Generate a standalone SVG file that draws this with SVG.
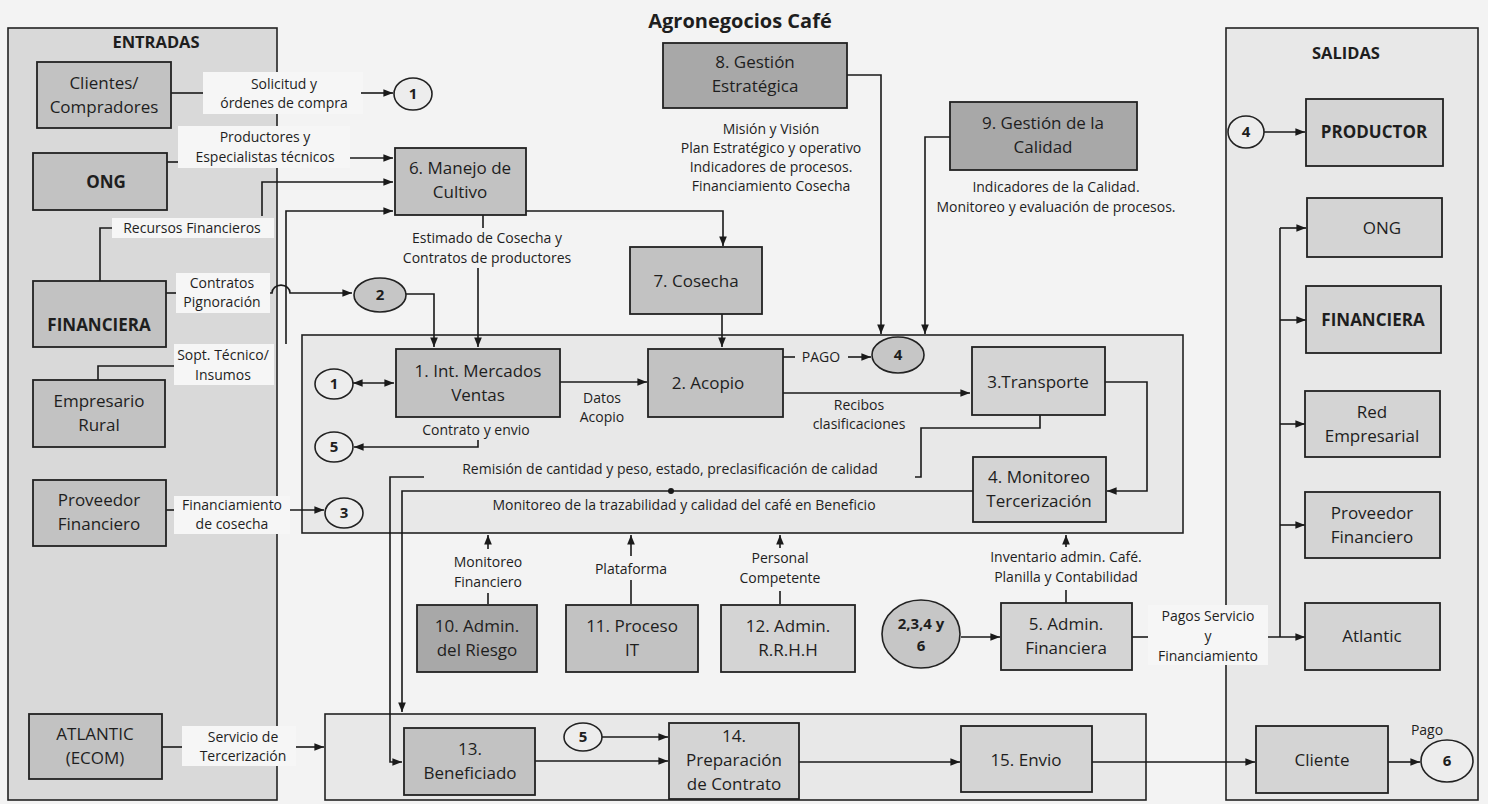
<svg xmlns="http://www.w3.org/2000/svg" width="1488" height="804" viewBox="0 0 1488 804">
<defs>
<marker id="ah" viewBox="0 0 10 10" refX="10" refY="5" markerWidth="6" markerHeight="6" orient="auto-start-reverse" markerUnits="strokeWidth"><path d="M0,1 L10,5 L0,9 z" fill="#1a1a1a"/></marker>
<style>
text{font-family:"Open Sans","Liberation Sans",sans-serif;fill:#1e1e1e;text-anchor:middle}
.n{font-size:17px}
.nb{font-size:17px;font-weight:bold}
.l{font-size:14px}
.h{font-size:16.5px;font-weight:bold}
.t{font-size:20px;font-weight:bold}
.c{font-size:15px;font-weight:bold}
.frame{fill:#d9d9d9;stroke:#222;stroke-width:1.6}
.frame2{fill:#e8e8e8;stroke:#222;stroke-width:1.6}
.box{fill:#c2c2c2;stroke:#222;stroke-width:1.8}
.boxl{fill:#d4d4d4;stroke:#222;stroke-width:1.8}
.boxd{fill:#a8a8a8;stroke:#222;stroke-width:1.8}
.circ{fill:#ededed;stroke:#222;stroke-width:1.6}
.circg{fill:#c6c6c6;stroke:#222;stroke-width:1.6}
.bg{fill:#f6f6f6}
#connectors path{fill:none;stroke:#1a1a1a;stroke-width:1.6}
.ar{marker-end:url(#ah)}
</style>
</defs>
<rect width="1488" height="804" fill="#f3f3f3"/>
<text class="t" x="740" y="28">Agronegocios Café</text>

<g id="entradas">
<rect class="frame" x="8" y="28" width="269" height="772"/>
<text class="h" x="156" y="48">ENTRADAS</text>
</g>
<g id="salidas">
<rect class="frame2" x="1226" y="28" width="252" height="772"/>
<text class="h" x="1346" y="59">SALIDAS</text>
</g>
<g id="proceso-principal">
<rect class="frame2" x="302" y="335" width="881" height="198"/>
</g>
<g id="proceso-beneficio">
<rect class="frame2" x="325" y="714" width="821" height="86"/>
</g>

<g id="label-bg">
<rect class="bg" x="203" y="72" width="160" height="42"/>
<rect class="bg" x="178" y="126" width="172" height="42"/>
<rect class="bg" x="112" y="218" width="162" height="20"/>
<rect class="bg" x="176" y="273" width="94" height="40"/>
<rect class="bg" x="174" y="344" width="100" height="41"/>
<rect class="bg" x="174" y="496" width="116" height="38"/>
<rect class="bg" x="182" y="726" width="114" height="40"/>
<rect class="bg" x="1148" y="605" width="120" height="60"/>
</g>

<g id="connectors">
<path d="M171,93 H203"/>
<path class="ar" d="M361,93 H393"/>
<path class="ar" d="M350,158 H393"/>
<path d="M167,162 H178"/>
<path d="M100,281 V228 H112"/>
<path class="ar" d="M262,216 V182 H393"/>
<path d="M98,380 V366 H174"/>
<path class="ar" d="M286,344 V211 H393"/>
<path d="M166,293 H176"/>
<path class="ar" d="M270,293 H272 A8,7 0 0 1 290,293 H352"/>
<path d="M166,510 H174"/>
<path class="ar" d="M290,510 H324"/>
<path d="M162,747 H182"/>
<path class="ar" d="M296,747 H324"/>
<path class="ar" d="M405,294 H434 V347"/>
<path d="M483,215 V228"/>
<path class="ar" d="M478,268 V347"/>
<path class="ar" d="M526,211 H723 V246"/>
<path class="ar" d="M722,314 V347"/>
<path class="ar" d="M847,75 H881 V334"/>
<path class="ar" d="M950,137 H925 V334"/>
<path class="ar" d="M353,383 H394" marker-start="url(#ah)"/>
<path class="ar" d="M478,440 V447 H354"/>
<path class="ar" d="M560,382 H647"/>
<path d="M783,357 H795"/>
<path class="ar" d="M848,357 H871"/>
<path class="ar" d="M783,393 H970"/>
<path class="ar" d="M1105,382 H1147 V491 H1107"/>
<path d="M1040,415 V428 H921 V477 H915"/>
<path class="ar" d="M424,477 H390 V762 H402"/>
<path class="ar" d="M973,491 H402 V712"/>
<path d="M488,604 V593"/>
<path class="ar" d="M488,549 V535"/>
<path d="M631,604 V580"/>
<path class="ar" d="M631,556 V535"/>
<path d="M780,604 V591"/>
<path class="ar" d="M780,548 V535"/>
<path d="M1066,603 V590"/>
<path class="ar" d="M1066,547 V535"/>
<path class="ar" d="M961,637 H1000"/>
<path d="M1132,637 H1148"/>
<path class="ar" d="M1268,637 H1305"/>
<path d="M1280,637 V228"/>
<path class="ar" d="M1280,228 H1306"/>
<path class="ar" d="M1280,320 H1306"/>
<path class="ar" d="M1280,424 H1305"/>
<path class="ar" d="M1280,525 H1305"/>
<path class="ar" d="M1264,132 H1305"/>
<path class="ar" d="M602,737 H668"/>
<path class="ar" d="M535,761 H668"/>
<path class="ar" d="M799,762 H960"/>
<path class="ar" d="M1092,762 H1255"/>
<path class="ar" d="M1388,762 H1420"/>
<circle cx="671" cy="491" r="3" fill="#1a1a1a"/>
</g>

<g id="connector-labels">
<text class="l" x="284" y="89">Solicitud y</text>
<text class="l" x="284" y="108">órdenes de compra</text>
<text class="l" x="265" y="142">Productores y</text>
<text class="l" x="265" y="162">Especialistas técnicos</text>
<text class="l" x="192" y="233">Recursos Financieros</text>
<text class="l" x="222" y="288">Contratos</text>
<text class="l" x="222" y="307">Pignoración</text>
<text class="l" x="223" y="360">Sopt. Técnico/</text>
<text class="l" x="223" y="380">Insumos</text>
<text class="l" x="232" y="510">Financiamiento</text>
<text class="l" x="232" y="529">de cosecha</text>
<text class="l" x="243" y="742">Servicio de</text>
<text class="l" x="243" y="761">Tercerización</text>
<text class="l" x="487" y="243">Estimado de Cosecha y</text>
<text class="l" x="487" y="263">Contratos de productores</text>
<text class="l" x="771" y="134">Misión y Visión</text>
<text class="l" x="771" y="153">Plan Estratégico y operativo</text>
<text class="l" x="771" y="172">Indicadores de procesos.</text>
<text class="l" x="771" y="191">Financiamiento Cosecha</text>
<text class="l" x="1056" y="192">Indicadores de la Calidad.</text>
<text class="l" x="1056" y="212">Monitoreo y evaluación de procesos.</text>
<text class="l" x="602" y="403">Datos</text>
<text class="l" x="602" y="422">Acopio</text>
<text class="l" x="821" y="362">PAGO</text>
<text class="l" x="859" y="410">Recibos</text>
<text class="l" x="859" y="429">clasificaciones</text>
<text class="l" x="476" y="435">Contrato y envio</text>
<text class="l" x="670" y="474">Remisión de cantidad y peso, estado, preclasificación de calidad</text>
<text class="l" x="684" y="510">Monitoreo de la trazabilidad y calidad del café en Beneficio</text>
<text class="l" x="488" y="567">Monitoreo</text>
<text class="l" x="488" y="587">Financiero</text>
<text class="l" x="631" y="574">Plataforma</text>
<text class="l" x="780" y="563">Personal</text>
<text class="l" x="780" y="583">Competente</text>
<text class="l" x="1066" y="562">Inventario admin. Café.</text>
<text class="l" x="1066" y="582">Planilla y Contabilidad</text>
<text class="l" x="1208" y="621">Pagos Servicio</text>
<text class="l" x="1208" y="641">y</text>
<text class="l" x="1208" y="661">Financiamiento</text>
<text class="l" x="1427" y="735" fill="#555">Pago</text>
</g>

<g id="n-clientes"><rect class="box" x="37" y="62" width="134" height="66"/><text class="n" x="104" y="89">Clientes/</text><text class="n" x="104" y="113">Compradores</text></g>
<g id="n-ong"><rect class="box" x="33" y="153" width="134" height="57"/><text class="nb" x="106" y="188">ONG</text></g>
<g id="n-financiera"><rect class="box" x="33" y="281" width="133" height="66"/><text class="nb" x="99" y="331">FINANCIERA</text></g>
<g id="n-empresario"><rect class="box" x="33" y="380" width="132" height="67"/><text class="n" x="99" y="407">Empresario</text><text class="n" x="99" y="431">Rural</text></g>
<g id="n-proveedor"><rect class="box" x="33" y="480" width="133" height="66"/><text class="n" x="99" y="506">Proveedor</text><text class="n" x="99" y="530">Financiero</text></g>
<g id="n-atlantic-ecom"><rect class="box" x="29" y="714" width="133" height="65"/><text class="n" x="95" y="740">ATLANTIC</text><text class="n" x="95" y="764">(ECOM)</text></g>

<g id="c1-top"><ellipse class="circ" cx="413" cy="94" rx="19" ry="16"/><text class="c" x="413" y="99">1</text></g>
<g id="c2"><ellipse class="circg" cx="380" cy="295" rx="26" ry="17"/><text class="c" x="380" y="300">2</text></g>
<g id="c3"><ellipse class="circ" cx="344" cy="513" rx="19" ry="15"/><text class="c" x="344" y="518">3</text></g>

<g id="n6"><rect class="box" x="395" y="148" width="131" height="67"/><text class="n" x="460" y="174">6. Manejo de</text><text class="n" x="460" y="198">Cultivo</text></g>
<g id="n7"><rect class="box" x="630" y="247" width="132" height="67"/><text class="n" x="696" y="287">7. Cosecha</text></g>
<g id="n8"><rect class="boxd" x="663" y="43" width="184" height="65"/><text class="n" x="755" y="68">8. Gestión</text><text class="n" x="755" y="92">Estratégica</text></g>
<g id="n9"><rect class="boxd" x="950" y="102" width="187" height="68"/><text class="n" x="1043" y="129">9. Gestión de la</text><text class="n" x="1043" y="153">Calidad</text></g>

<g id="c1-in"><ellipse class="circ" cx="334" cy="384" rx="19" ry="15"/><text class="c" x="334" y="389">1</text></g>
<g id="c5-in"><ellipse class="circ" cx="334" cy="447" rx="19" ry="15"/><text class="c" x="334" y="452">5</text></g>
<g id="n1"><rect class="box" x="396" y="349" width="164" height="68"/><text class="n" x="478" y="377">1. Int. Mercados</text><text class="n" x="478" y="401">Ventas</text></g>
<g id="n2"><rect class="box" x="648" y="349" width="135" height="68"/><text class="n" x="708" y="389">2. Acopio</text></g>
<g id="c4"><ellipse class="circg" cx="898" cy="355" rx="26" ry="18"/><text class="c" x="898" y="360">4</text></g>
<g id="n3"><rect class="boxl" x="972" y="347" width="133" height="68"/><text class="n" x="1038" y="388">3.Transporte</text></g>
<g id="n4"><rect class="boxl" x="973" y="457" width="133" height="65"/><text class="n" x="1039" y="483">4. Monitoreo</text><text class="n" x="1039" y="507">Tercerización</text></g>

<g id="n10"><rect class="boxd" x="417" y="605" width="120" height="67"/><text class="n" x="477" y="632">10. Admin.</text><text class="n" x="477" y="656">del Riesgo</text></g>
<g id="n11"><rect class="box" x="566" y="605" width="132" height="67"/><text class="n" x="632" y="632">11. Proceso</text><text class="n" x="632" y="656">IT</text></g>
<g id="n12"><rect class="boxl" x="721" y="605" width="134" height="67"/><text class="n" x="788" y="632">12. Admin.</text><text class="n" x="788" y="656">R.R.H.H</text></g>
<g id="c2346"><ellipse class="circg" cx="921" cy="634" rx="39" ry="34"/><text class="c" x="921" y="629">2,3,4 y</text><text class="c" x="921" y="651">6</text></g>
<g id="n5"><rect class="boxl" x="1001" y="603" width="131" height="67"/><text class="n" x="1066" y="630">5. Admin.</text><text class="n" x="1066" y="654">Financiera</text></g>

<g id="n13"><rect class="box" x="404" y="728" width="131" height="67"/><text class="n" x="470" y="755">13.</text><text class="n" x="470" y="779">Beneficiado</text></g>
<g id="c5-bot"><ellipse class="circ" cx="583" cy="737" rx="19" ry="14"/><text class="c" x="583" y="742">5</text></g>
<g id="n14"><rect class="boxl" x="669" y="723" width="130" height="76"/><text class="n" x="734" y="742">14.</text><text class="n" x="734" y="766">Preparación</text><text class="n" x="734" y="790">de Contrato</text></g>
<g id="n15"><rect class="boxl" x="961" y="726" width="131" height="66"/><text class="n" x="1026" y="766">15. Envio</text></g>

<g id="c4-sal"><ellipse class="circ" cx="1246" cy="132" rx="18" ry="16"/><text class="c" x="1246" y="137">4</text></g>
<g id="s-productor"><rect class="boxl" x="1306" y="99" width="137" height="67"/><text class="nb" x="1374" y="138">PRODUCTOR</text></g>
<g id="s-ong"><rect class="boxl" x="1307" y="198" width="135" height="59"/><text class="n" x="1382" y="234">ONG</text></g>
<g id="s-financiera"><rect class="boxl" x="1306" y="286" width="135" height="67"/><text class="nb" x="1373" y="326">FINANCIERA</text></g>
<g id="s-red"><rect class="boxl" x="1305" y="391" width="135" height="66"/><text class="n" x="1372" y="418">Red</text><text class="n" x="1372" y="442">Empresarial</text></g>
<g id="s-proveedor"><rect class="boxl" x="1305" y="492" width="135" height="66"/><text class="n" x="1372" y="519">Proveedor</text><text class="n" x="1372" y="543">Financiero</text></g>
<g id="s-atlantic"><rect class="boxl" x="1305" y="603" width="135" height="67"/><text class="n" x="1372" y="642">Atlantic</text></g>
<g id="s-cliente"><rect class="boxl" x="1256" y="726" width="132" height="67"/><text class="n" x="1322" y="766">Cliente</text></g>
<g id="c6"><ellipse class="circ" cx="1447" cy="761" rx="26" ry="21"/><text class="c" x="1447" y="766">6</text></g>
</svg>
